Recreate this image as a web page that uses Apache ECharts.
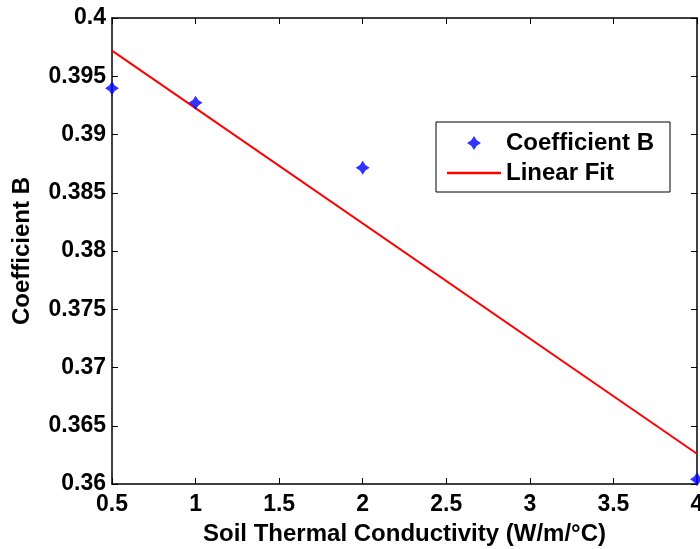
<!DOCTYPE html>
<html>
<head>
<meta charset="utf-8">
<script src="https://cdn.jsdelivr.net/npm/echarts@6/dist/echarts.min.js"></script>
<style>
  html, body { margin: 0; padding: 0; background: #fff; }
  #chart { width: 700px; height: 549px; }
</style>
</head>
<body>
<div id="chart"></div>
<script>
// Measured coefficient B at each soil thermal conductivity
const conductivity = [0.5, 1, 2, 4];
const coefB = [0.39397, 0.39273, 0.38715, 0.3604];

// Linear fit evaluated at the ends of the range
const fitX = [0.5, 4];
const fitY = [0.3972, 0.3626];

const FONT = '"Liberation Sans", Arial, sans-serif';
const STAR = 'path://M0,-1 L0.4,-0.4 L1,0 L0.4,0.4 L0,1 L-0.4,0.4 L-1,0 L-0.4,-0.4 Z';
const LINE_ICON = 'path://M0,0 L54,0 L54,2.5 L0,2.5 Z';

const chart = echarts.init(document.getElementById('chart'), null, { renderer: 'canvas' });

const boxAxis = {
  axisLine: { show: true, onZero: false, lineStyle: { color: '#000', width: 1.5 } },
  axisTick: { show: true, inside: true, length: 6, lineStyle: { color: '#000', width: 1 } },
  splitLine: { show: false }
};

chart.setOption({
  animation: false,
  backgroundColor: '#fff',
  textStyle: { fontFamily: FONT },
  grid: { left: 112, right: 3, top: 18, bottom: 65, containLabel: false, outerBoundsMode: 'none' },
  legend: {
    orient: 'vertical',
    left: 436,
    top: 122,
    padding: [9, 16, 7, 11],
    itemWidth: 54,
    itemHeight: 14,
    itemGap: 6,
    borderColor: '#000',
    borderWidth: 1,
    backgroundColor: '#fff',
    symbolKeepAspect: true,
    textStyle: { fontFamily: FONT, fontWeight: 'bold', fontSize: 24, color: '#000', lineHeight: 14 },
    data: [
      { name: 'Coefficient B', icon: STAR },
      { name: 'Linear Fit', icon: LINE_ICON }
    ]
  },
  xAxis: [
    Object.assign({
      type: 'value', min: 0.5, max: 4, interval: 0.5, position: 'bottom',
      name: 'Soil Thermal Conductivity (W/m/°C)',
      nameLocation: 'middle', nameGap: 38,
      nameTextStyle: { fontFamily: FONT, fontWeight: 'bold', fontSize: 24, color: '#000', verticalAlign: 'top', lineHeight: 24 },
      axisLabel: { fontFamily: FONT, fontWeight: 'bold', fontSize: 23, color: '#000', margin: 9 }
    }, boxAxis),
    Object.assign({
      type: 'value', min: 0.5, max: 4, interval: 0.5, position: 'top',
      axisLabel: { show: false }
    }, boxAxis)
  ],
  yAxis: [
    Object.assign({
      type: 'value', min: 0.36, max: 0.4, interval: 0.005, position: 'left',
      name: 'Coefficient B',
      nameLocation: 'middle', nameGap: 78,
      nameTextStyle: { fontFamily: FONT, fontWeight: 'bold', fontSize: 24, color: '#000' },
      axisLabel: {
        fontFamily: FONT, fontWeight: 'bold', fontSize: 23, color: '#000', margin: 6,
        formatter: v => String(parseFloat(v.toFixed(3)))
      }
    }, boxAxis),
    Object.assign({
      type: 'value', min: 0.36, max: 0.4, interval: 0.005, position: 'right',
      axisLabel: { show: false }
    }, boxAxis)
  ],
  series: [
    {
      name: 'Coefficient B',
      type: 'scatter',
      data: conductivity.map((x, i) => [x, coefB[i]]),
      symbol: STAR,
      symbolSize: 14,
      clip: false,
      itemStyle: { color: '#0000ff' },
      z: 3
    },
    {
      name: 'Linear Fit',
      type: 'line',
      data: fitX.map((x, i) => [x, fitY[i]]),
      symbol: 'none',
      lineStyle: { color: '#ff0000', width: 2 },
      itemStyle: { color: '#ff0000' },
      z: 2
    }
  ]
});
</script>
</body>
</html>
